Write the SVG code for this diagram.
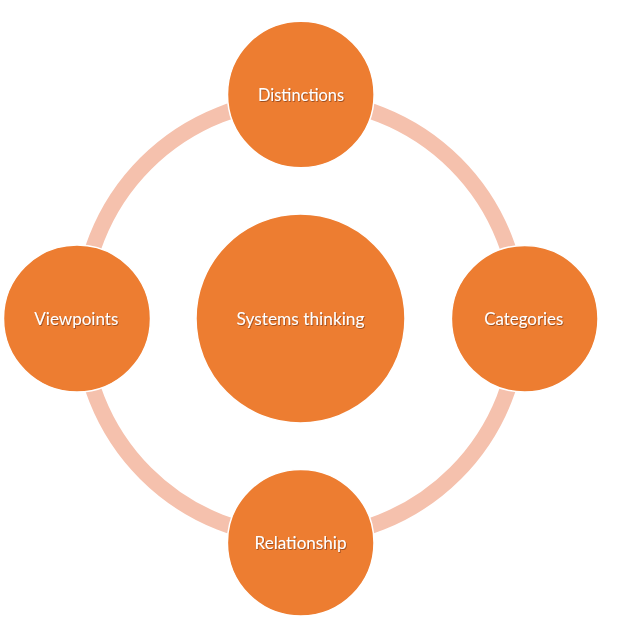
<svg xmlns="http://www.w3.org/2000/svg" width="624" height="640" viewBox="0 0 624 640">
  <defs>
    <filter id="ts" x="-10%" y="-30%" width="120%" height="160%">
      <feDropShadow dx="0.8" dy="1" stdDeviation="0.7" flood-color="#5a2a08" flood-opacity="0.55"/>
    </filter>
  </defs>
  <style>
    .node { fill: #ED7D31; stroke: #FFFFFF; stroke-width: 1.5; }
    .ring { fill: none; stroke: #F5C1AD; stroke-width: 16; }
    .label { font-family: Lato, "Open Sans", "Liberation Sans", sans-serif; font-size: 18px; fill: #FFFFFF; text-anchor: middle; filter: url(#ts); }
  </style>
  <rect width="624" height="640" fill="#FFFFFF"/>
  <g id="connectors">
    <circle class="ring" cx="300.5" cy="318.5" r="219"/>
  </g>
  <g id="node-center">
    <circle class="node" cx="300.5" cy="318.5" r="104.5"/>
    <text class="label" x="300.5" y="324.5" textLength="128" lengthAdjust="spacingAndGlyphs">Systems thinking</text>
  </g>
  <g id="node-distinctions">
    <circle class="node" cx="300.8" cy="94.5" r="73.3"/>
    <text class="label" x="301" y="100.8" textLength="86" lengthAdjust="spacingAndGlyphs">Distinctions</text>
  </g>
  <g id="node-categories">
    <circle class="node" cx="524.7" cy="318.8" r="73.3"/>
    <text class="label" x="523.8" y="324.5" textLength="79" lengthAdjust="spacingAndGlyphs">Categories</text>
  </g>
  <g id="node-viewpoints">
    <circle class="node" cx="77" cy="318.5" r="73.5"/>
    <text class="label" x="76.3" y="324.5" textLength="84" lengthAdjust="spacingAndGlyphs">Viewpoints</text>
  </g>
  <g id="node-relationship">
    <circle class="node" cx="300.7" cy="542.7" r="73.3"/>
    <text class="label" x="300.5" y="548.5" textLength="92" lengthAdjust="spacingAndGlyphs">Relationship</text>
  </g>
</svg>
